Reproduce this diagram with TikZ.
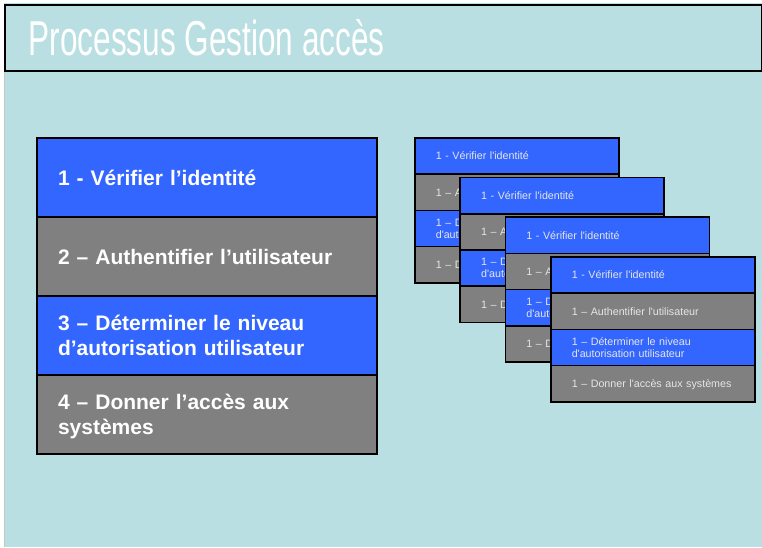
\documentclass[tikz,border=0pt]{standalone}
\usepackage{graphicx}
\usepackage{fontspec}
\setmainfont{Liberation Sans}

\definecolor{slidebg}{HTML}{B9DFE2}
\definecolor{stepblue}{HTML}{3366FF}
\definecolor{stepgray}{HTML}{808080}
\definecolor{minitext}{HTML}{E6E6E6}

\tikzset{
  bigrow/.style={draw=black, line width=2pt, anchor=north west,
    minimum width=340pt, minimum height=79pt, inner xsep=21pt, inner ysep=0pt,
    text width=298pt, align=left, text=white,
    font=\fontsize{21}{25}\bfseries\selectfont, text height=15.2pt, text depth=0pt},
  bigtwo/.style={text depth=25pt},
  minirow/.style={draw=black, line width=1.6pt, anchor=north west,
    minimum width=204pt, minimum height=36.25pt, inner xsep=21pt, inner ysep=0pt,
    text width=162pt, align=left, text=minitext,
    font=\fontsize{10.7}{12}\selectfont, text height=7.7pt, text depth=0pt},
  minitwo/.style={text depth=12pt},
  bluerow/.style={fill=stepblue},
  grayrow/.style={fill=stepgray},
}

\begin{document}
\begin{tikzpicture}[x=1pt, y=-1pt]
  \useasboundingbox (0,0) rectangle (762,547);
  % slide background
  \fill[white] (0,0) rectangle (762,547);
  \fill[slidebg] (4,3) rectangle (762,547);
  \draw[gray!45, line width=1pt] (4.5,72) -- (4.5,547);

  % title bar
  \draw[gray!55, line width=1.5pt] (5,71.5) -- (762,71.5);
  \node[draw=black, line width=2pt, fill=slidebg, anchor=north west, inner sep=0pt,
        minimum width=757pt, minimum height=66pt] (titlebar) at (4,4) {};
  \node[anchor=base west, inner sep=0pt, text=white,
        font=\fontsize{49}{49}\selectfont] (title) at (28.5,55)
        {\scalebox{0.644}[1]{Processus Gestion accès}};

  % main list of steps
  \node[bigrow, bluerow] (b1) at (36,137) {1 - Vérifier l’identité};
  \node[bigrow, grayrow] (b2) at (36,216) {2 – Authentifier l’utilisateur};
  \node[bigrow, bluerow, bigtwo] (b3) at (36,295) {3 – Déterminer le niveau\\d’autorisation utilisateur};
  \node[bigrow, grayrow, bigtwo] (b4) at (36,374) {4 – Donner l’accès aux\\systèmes};

  % cascaded copies of the list
  \foreach \k in {0,...,3}{
    \pgfmathsetmacro{\sx}{414+45.33*\k}
    \pgfmathsetmacro{\sy}{137+39.67*\k}
    \node[minirow, bluerow] (s\k-1) at (\sx,\sy) {1 - Vérifier l\textquotesingle identité};
    \node[minirow, grayrow] (s\k-2) at (\sx,\sy+36.25) {1 – Authentifier l\textquotesingle utilisateur};
    \node[minirow, bluerow, minitwo] (s\k-3) at (\sx,\sy+72.5) {1 – Déterminer le niveau\\d\textquotesingle autorisation utilisateur};
    \node[minirow, grayrow] (s\k-4) at (\sx,\sy+108.75) {1 – Donner l\textquotesingle accès aux systèmes};
  }
\end{tikzpicture}
\end{document}
